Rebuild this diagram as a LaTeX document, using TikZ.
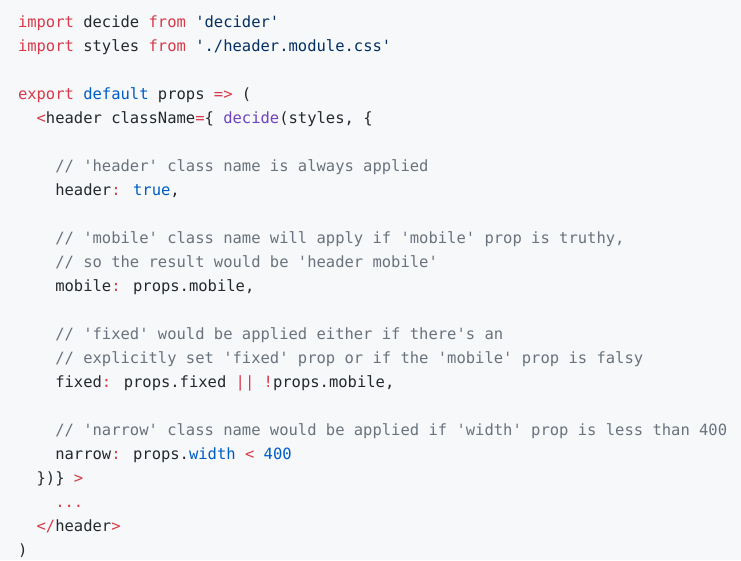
\documentclass[tikz,border=0pt]{standalone}
\usepackage{fontspec}
\newfontfamily\codefont{DejaVu Sans Mono}[Ligatures=TeXOff]
\definecolor{ckwc}{HTML}{D73A49}
\definecolor{cblc}{HTML}{005CC5}
\definecolor{cstc}{HTML}{032F62}
\definecolor{cpuc}{HTML}{6F42C1}
\definecolor{ccmc}{HTML}{6A737D}
\definecolor{ctxc}{HTML}{24292E}
\definecolor{cbgc}{HTML}{F6F8FA}
\newcommand{\ckw}[1]{\textcolor{ckwc}{#1}}
\newcommand{\cbl}[1]{\textcolor{cblc}{#1}}
\newcommand{\cst}[1]{\textcolor{cstc}{#1}}
\newcommand{\cpu}[1]{\textcolor{cpuc}{#1}}
\newcommand{\ccm}[1]{\textcolor{ccmc}{#1}}
\begin{document}
\begin{tikzpicture}[x=1pt,y=-1pt,
  codeline/.style={anchor=base west, inner sep=0pt, outer sep=0pt, text=ctxc,
    font=\codefont\fontsize{15.5pt}{24pt}\selectfont}]
\def\cw{9.331}
\fill[cbgc] (0,0) rectangle (741,560);
\useasboundingbox (0,0) rectangle (741,560);
\node[codeline] (l1) at (18,27) {\ckw{import} decide \ckw{from} \cst{'decider'}};
\node[codeline] (l2) at (18,51) {\ckw{import} styles \ckw{from} \cst{'./header.module.css'}};
\node[codeline] (l4) at (18,99) {\ckw{export} \cbl{default} props \ckw{=>} (};
\node[codeline] (l5) at (18+2*\cw,123) {\ckw{<}header className\ckw{=}\{ \cpu{decide}(styles, \{};
\node[codeline] (l7) at (18+4*\cw,171) {\ccm{// 'header' class name is always applied}};
\node[codeline] (l8) at (18+4*\cw,195) {header\ckw{:} \cbl{true},};
\node[codeline] (l10) at (18+4*\cw,243) {\ccm{// 'mobile' class name will apply if 'mobile' prop is truthy,}};
\node[codeline] (l11) at (18+4*\cw,267) {\ccm{// so the result would be 'header mobile'}};
\node[codeline] (l12) at (18+4*\cw,291) {mobile\ckw{:} props.mobile,};
\node[codeline] (l14) at (18+4*\cw,339) {\ccm{// 'fixed' would be applied either if there's an}};
\node[codeline] (l15) at (18+4*\cw,363) {\ccm{// explicitly set 'fixed' prop or if the 'mobile' prop is falsy}};
\node[codeline] (l16) at (18+4*\cw,387) {fixed\ckw{:} props.fixed \ckw{||} \ckw{!}props.mobile,};
\node[codeline] (l18) at (18+4*\cw,435) {\ccm{// 'narrow' class name would be applied if 'width' prop is less than 400}};
\node[codeline] (l19) at (18+4*\cw,459) {narrow\ckw{:} props.\cbl{width} \ckw{<} \cbl{400}};
\node[codeline] (l20) at (18+2*\cw,483) {\})\} \ckw{>}};
\node[codeline] (l21) at (18+4*\cw,507) {\ckw{...}};
\node[codeline] (l22) at (18+2*\cw,531) {\ckw{</}header\ckw{>}};
\node[codeline] (l23) at (18,555) {)};
\end{tikzpicture}
\end{document}
